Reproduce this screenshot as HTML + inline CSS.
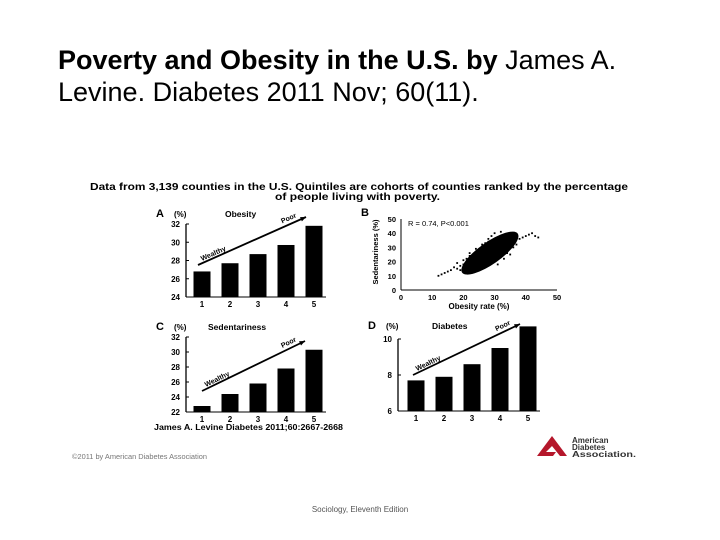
<!DOCTYPE html>
<html><head><meta charset="utf-8"><style>
html,body{margin:0;padding:0;background:#fff;}
#slide{position:relative;width:720px;height:540px;overflow:hidden;font-family:"Liberation Sans",Arial,sans-serif;}
#title{position:absolute;left:58px;top:44px;font-size:27px;line-height:32px;color:#000;margin:0;font-weight:normal;white-space:nowrap;}
#footer{position:absolute;left:0;width:720px;top:505px;text-align:center;font-size:8px;color:#555;}
svg text{font-family:"Liberation Sans",Arial,sans-serif;}
</style></head><body>
<div id="slide">
<div id="title"><b>Poverty and Obesity in the U.S. by</b> James A.<br>Levine. Diabetes 2011 Nov; 60(11).</div>
<svg id="fig" width="720" height="540" style="position:absolute;left:0;top:0">
<text x="90" y="190" font-size="10" font-weight="bold" textLength="538" lengthAdjust="spacingAndGlyphs">Data from 3,139 counties in the U.S. Quintiles are cohorts of counties ranked by the percentage</text>
<text x="275" y="200" font-size="10" font-weight="bold" textLength="165" lengthAdjust="spacingAndGlyphs">of people living with poverty.</text>
<text x="72" y="459" font-size="7" fill="#777" textLength="135" lengthAdjust="spacingAndGlyphs">©2011 by American Diabetes Association</text>
<text x="154" y="430" font-size="8" font-weight="bold" textLength="189" lengthAdjust="spacingAndGlyphs">James A. Levine Diabetes 2011;60:2667-2668</text>
<g id="ada-logo">
<polygon points="537,456 552,436 567,456 560,456 552,446 546,452 556,452 553,456" fill="#b5172b"/>
<text x="572" y="443" font-size="8" font-weight="bold" fill="#333">American</text>
<text x="572" y="450" font-size="8" font-weight="bold" fill="#333">Diabetes</text>
<text x="572" y="457" font-size="8" font-weight="bold" fill="#333" textLength="64" lengthAdjust="spacingAndGlyphs">Association.</text>
</g>
</svg>
<div id="footer">Sociology, Eleventh Edition</div>
</div>
<script>
const quintiles = ["1","2","3","4","5"];
const obesityValues = [26.8, 27.7, 28.7, 29.7, 31.8];
const obesityTicks = [24, 26, 28, 30, 32];
const sedentaryValues = [22.8, 24.4, 25.8, 27.8, 30.3];
const sedentaryTicks = [22, 24, 26, 28, 30, 32];
const diabetesValues = [7.7, 7.9, 8.6, 9.5, 10.7];
const diabetesTicks = [6, 8, 10];
const scatterXTicks = [0, 10, 20, 30, 40, 50];
const scatterYTicks = [0, 10, 20, 30, 40, 50];
const scatterObesity = [12,13,14,15,16,17,18,18,19,20,20,21,21,22,22,23,23,24,24,25,25,26,26,27,27,28,28,29,29,30,30,31,31,32,32,33,33,34,34,35,35,36,37,38,39,40,41,42,43,44,22,24,26,28,30,32,34,29,27,31,19,21,23,25,33,35,36,31,26,24];
const scatterSedentary = [10,11,12,13,14,16,15,19,17,18,21,16,22,19,24,17,23,18,26,20,28,17,30,22,33,19,36,24,38,21,40,27,35,25,41,28,37,30,26,33,38,35,32,36,37,38,39,40,38,37,26,29,32,34,35,31,33,20,16,22,14,15,16,16,22,25,30,18,15,27];
const NS="http://www.w3.org/2000/svg";
const svg=document.getElementById('fig');
function mk(tag,attrs,parent){const e=document.createElementNS(NS,tag);for(const k in attrs)e.setAttribute(k,attrs[k]);(parent||svg).appendChild(e);return e;}
function txt(x,y,s,size,anchor,parent,bold){const t=mk('text',{x:x,y:y,'font-size':size,'text-anchor':anchor||'start','font-weight':bold?'bold':'normal'},parent);t.textContent=s;return t;}

function barPanel(o){
  const g=mk('g',{});
  
  
  const yS=v=>o.y0+(v-o.min)/(o.max-o.min)*(o.y1-o.y0);
  const xS=i=>o.xStart+i*o.step;
  mk('line',{x1:o.ax,y1:o.y1,x2:o.ax,y2:o.y0,stroke:'#000','stroke-width':1.3},g);
  mk('line',{x1:o.ax,y1:o.y0,x2:xS(4)+12,y2:o.y0,stroke:'#000','stroke-width':1},g);
  o.ticks.forEach(t=>{
    mk('line',{x1:o.ax,y1:yS(t),x2:o.ax+3,y2:yS(t),stroke:'#000'},g);
    const l=txt(o.ax-6,yS(t)+3,String(t),8,'end',g,true);
    
    
  });
  o.values.forEach((v,i)=>{
    const r=mk('rect',{x:xS(i)-8.5,y:yS(v),width:17,height:o.y0-yS(v),fill:'#000'},g);
    
    
    const l=txt(xS(i),o.y0+10,quintiles[i],8,'middle',g,true);
    
    
  });
  txt(o.ax-30,o.labelY,o.letter,11,'start',g,true);
  txt(o.ax-12,o.labelY,'(%)',8,'start',g,true);
  txt(o.titleX,o.labelY,o.title,8.5,'start',g,true);
  const a=o.arrow;
  mk('line',{x1:a[0],y1:a[1],x2:a[2],y2:a[3],stroke:'#000','stroke-width':1.8},g);
  const ang=Math.atan2(a[3]-a[1],a[2]-a[0]);
  const h=6;
  mk('polygon',{points:[a[2],a[3],a[2]-h*Math.cos(ang-0.4),a[3]-h*Math.sin(ang-0.4),a[2]-h*Math.cos(ang+0.4),a[3]-h*Math.sin(ang+0.4)].join(','),fill:'#000'},g);
  const deg=ang*180/Math.PI;
  const w=txt(0,0,'Wealthy',7,'start',g,true);w.setAttribute('transform',`translate(${a[0]+4},${a[1]-4}) rotate(${deg})`);
  const p=txt(0,0,'Poor',7,'start',g,true);p.setAttribute('transform',`translate(${a[0]+(a[2]-a[0])*0.78},${a[1]+(a[3]-a[1])*0.78-4}) rotate(${deg})`);
}
barPanel({name:'panel-a-obesity',ax:186,y0:297,y1:224,min:24,max:32,ticks:obesityTicks,values:obesityValues,xStart:202,step:28,letter:'A',title:'Obesity',titleX:225,labelY:217,arrow:[198,265,306,217]});
barPanel({name:'panel-c-sedentariness',ax:186,y0:412,y1:337,min:22,max:32,ticks:sedentaryTicks,values:sedentaryValues,xStart:202,step:28,letter:'C',title:'Sedentariness',titleX:208,labelY:330,arrow:[202,391,305,341]});
barPanel({name:'panel-d-diabetes',ax:398,y0:411,y1:339,min:6,max:10,ticks:diabetesTicks,values:diabetesValues,xStart:416,step:28,letter:'D',title:'Diabetes',titleX:432,labelY:329,arrow:[413,375,520,324]});

(function(){
  const g=mk('g',{});
  
  
  const x0=401,x1=557,y0=290,y1=219;
  const xS=v=>x0+v/50*(x1-x0), yS=v=>y0-v/50*(y0-y1);
  mk('line',{x1:x0,y1:y1,x2:x0,y2:y0,stroke:'#000'},g);
  mk('line',{x1:x0,y1:y0,x2:x1,y2:y0,stroke:'#000'},g);
  scatterYTicks.forEach(t=>{const l=txt(x0-5,yS(t)+3,String(t),7.5,'end',g,true);});
  scatterXTicks.forEach(t=>{const l=txt(xS(t),y0+10,String(t),7.5,'middle',g,true);});
  const c=mk('ellipse',{cx:xS(28.5),cy:yS(26),rx:34,ry:11,fill:'#000',transform:`rotate(-35 ${xS(28.5)} ${yS(26)})`},g);
  
  
  scatterObesity.forEach((v,i)=>{
    const d=mk('rect',{x:xS(v)-0.9,y:yS(scatterSedentary[i])-0.9,width:1.8,height:1.8,fill:'#000'},g);
    
    
  });
  txt(361,216,'B',11,'start',g,true);
  txt(408,226,'R = 0.74, P<0.001',7.5,'start',g);
  txt(479,309,'Obesity rate (%)',8,'middle',g,true);
  const yt=txt(0,0,'Sedentariness (%)',7.5,'middle',g,true);yt.setAttribute('transform','translate(378,252) rotate(-90)');
})();
</script>
</body></html>
